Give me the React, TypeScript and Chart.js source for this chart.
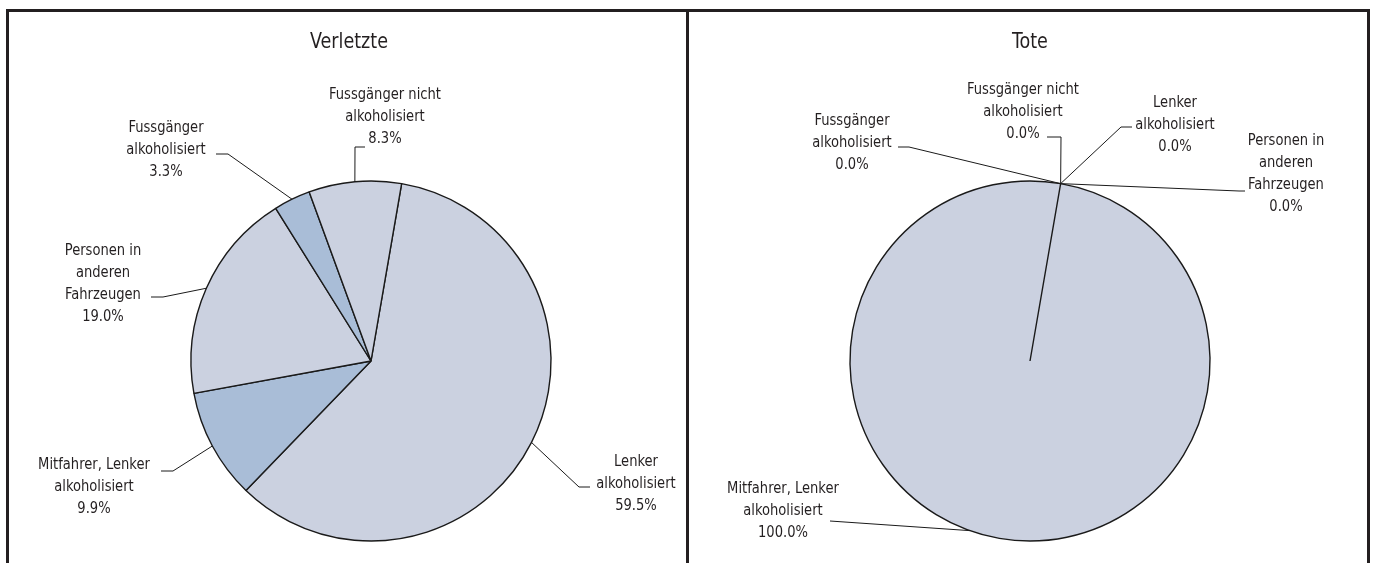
import { useEffect, useRef } from "react";
import { Chart, registerables } from "chart.js";

Chart.register(...registerables);

// ---------- data ----------
const categories = [
  "Lenker alkoholisiert",
  "Mitfahrer, Lenker alkoholisiert",
  "Personen in anderen Fahrzeugen",
  "Fussgänger alkoholisiert",
  "Fussgänger nicht alkoholisiert",
];
const labelLines = [
  ["Lenker", "alkoholisiert"],
  ["Mitfahrer, Lenker", "alkoholisiert"],
  ["Personen in", "anderen", "Fahrzeugen"],
  ["Fussgänger", "alkoholisiert"],
  ["Fussgänger nicht", "alkoholisiert"],
];
const verletzteValues = [59.5, 9.9, 19.0, 3.3, 8.3];
const toteValues = [0.0, 100.0, 0.0, 0.0, 0.0];
const titles = ["Verletzte", "Tote"];

// ---------- styles ----------
const LIGHT = "#cbd1e0";
const DARK = "#a9bdd7";
const verletzteColors = [LIGHT, DARK, LIGHT, DARK, LIGHT];
const toteColors = [LIGHT, LIGHT, LIGHT, DARK, LIGHT];
const TEXT = "#231f20";
const FONT = '"Liberation Sans Narrow", "DejaVu Sans Condensed", sans-serif';
const LABEL_SIZE = 16;
const LABEL_SCALE_X = 0.91;
const LINE_H = 22;
const TITLE_SIZE = 21;
const TITLE_SCALE_X = 0.93;

type LabelLayout = {
  cx: number; // text centre x (page px)
  base: number; // first baseline y (page px)
  path: [number, number][]; // leader points from text side toward slice (page px)
  angleShift?: number; // radians added to slice mid angle for attach point
};

// label layouts in page coordinates
const verletzteLayout: LabelLayout[] = [
  { cx: 636, base: 466, path: [[590, 487], [579, 487]] },
  { cx: 94, base: 469, path: [[161, 471], [173, 471]] },
  { cx: 103, base: 255, path: [[151, 297], [163, 297]] },
  { cx: 166, base: 132, path: [[216, 154], [228, 154]] },
  { cx: 385, base: 99, path: [[365, 147], [355, 147]] },
];
const toteLayout: LabelLayout[] = [
  { cx: 1175, base: 107, path: [[1132, 127], [1121, 127]] },
  { cx: 783, base: 493, path: [[830, 521]], angleShift: 0.17 },
  { cx: 1286, base: 145, path: [[1245, 191], [1239, 191]] },
  { cx: 852, base: 125, path: [[898, 147], [909, 147]] },
  { cx: 1023, base: 94, path: [[1047, 137], [1061, 137]] },
];

type PanelSpec = {
  left: number;
  top: number;
  width: number;
  height: number;
  padding: { left: number; right: number; top: number; bottom: number };
  title: string;
  titleX: number; // page
  titleY: number; // page baseline
  values: number[];
  colors: string[];
  layout: LabelLayout[];
};

const panels: PanelSpec[] = [
  {
    left: 9,
    top: 12,
    width: 677,
    height: 551,
    padding: { left: 150, right: 103, top: 157, bottom: 10 },
    title: titles[0],
    titleX: 349,
    titleY: 48,
    values: verletzteValues,
    colors: verletzteColors,
    layout: verletzteLayout,
  },
  {
    left: 689,
    top: 12,
    width: 678,
    height: 551,
    padding: { left: 150, right: 146, top: 157, bottom: 10 },
    title: titles[1],
    titleX: 1030,
    titleY: 48,
    values: toteValues,
    colors: toteColors,
    layout: toteLayout,
  },
];

function drawText(
  ctx: CanvasRenderingContext2D,
  text: string,
  x: number,
  y: number,
  sx: number
) {
  ctx.save();
  ctx.translate(x, y);
  ctx.scale(sx, 1);
  ctx.fillText(text, 0, 0);
  ctx.restore();
}

function PieChart({ spec }: { spec: PanelSpec }) {
  const ref = useRef<HTMLCanvasElement | null>(null);
  useEffect(() => {
    if (!ref.current) return;
    const offX = spec.left;
    const offY = spec.top;
    const labelPlugin = {
      id: "pieLabels",
      afterDraw(chart: any) {
        const ctx = chart.ctx as CanvasRenderingContext2D;
        ctx.save();
        // title
        ctx.fillStyle = TEXT;
        ctx.font = `${TITLE_SIZE}px ${FONT}`;
        ctx.textAlign = "center";
        ctx.textBaseline = "alphabetic";
        drawText(ctx, spec.title, spec.titleX - offX, spec.titleY - offY, TITLE_SCALE_X);

        const meta = chart.getDatasetMeta(0);
        const data = chart.data.datasets[0].data as number[];
        meta.data.forEach((arc: any, i: number) => {
          const lay = spec.layout[i];
          if (!lay) return;
          const p = arc.getProps(["x", "y", "startAngle", "endAngle", "outerRadius"], true);
          const mid = (p.startAngle + p.endAngle) / 2 + (lay.angleShift || 0);
          const ex = p.x + Math.cos(mid) * p.outerRadius;
          const ey = p.y + Math.sin(mid) * p.outerRadius;
          // leader
          ctx.strokeStyle = "#1a1a1a";
          ctx.lineWidth = 1;
          ctx.beginPath();
          lay.path.forEach(([px, py], k) => {
            if (k === 0) ctx.moveTo(px - offX, py - offY);
            else ctx.lineTo(px - offX, py - offY);
          });
          ctx.lineTo(ex, ey);
          ctx.stroke();
          // text
          ctx.fillStyle = TEXT;
          ctx.font = `${LABEL_SIZE}px ${FONT}`;
          ctx.textAlign = "center";
          const lines = [...labelLines[i], `${data[i].toFixed(1)}%`];
          lines.forEach((t, k) => {
            drawText(ctx, t, lay.cx - offX, lay.base - offY + k * LINE_H, LABEL_SCALE_X);
          });
        });
        ctx.restore();
      },
    };

    const chart = new Chart(ref.current, {
      type: "pie",
      data: {
        labels: categories,
        datasets: [
          {
            data: spec.values,
            backgroundColor: spec.colors,
            borderColor: "#1a1a1a",
            borderWidth: 1.4,
          },
        ],
      },
      options: {
        animation: false,
        responsive: false,
        events: [],
        rotation: 9.8,
        radius: 180,
        layout: { padding: spec.padding },
        plugins: {
          legend: { display: false },
          tooltip: { enabled: false },
          title: { display: false },
        },
      },
      plugins: [labelPlugin],
    });
    return () => chart.destroy();
  }, [spec]);

  return (
    <canvas
      ref={ref}
      width={spec.width}
      height={spec.height}
      style={{
        position: "absolute",
        left: spec.left,
        top: spec.top,
        width: spec.width,
        height: spec.height,
      }}
    />
  );
}

const bar = (left: number, top: number, width: number, height: number) => (
  <div
    style={{
      position: "absolute",
      left,
      top,
      width,
      height,
      background: "#231f20",
    }}
  />
);

export default function App() {
  return (
    <div
      style={{
        position: "fixed",
        left: 0,
        top: 0,
        width: 1375,
        height: 563,
        background: "#ffffff",
        overflow: "hidden",
      }}
    >
      {panels.map((p, i) => (
        <PieChart key={i} spec={p} />
      ))}
      {bar(6, 9, 1364, 3)}
      {bar(6, 9, 3, 554)}
      {bar(686, 9, 3, 554)}
      {bar(1367, 9, 3, 554)}
    </div>
  );
}
